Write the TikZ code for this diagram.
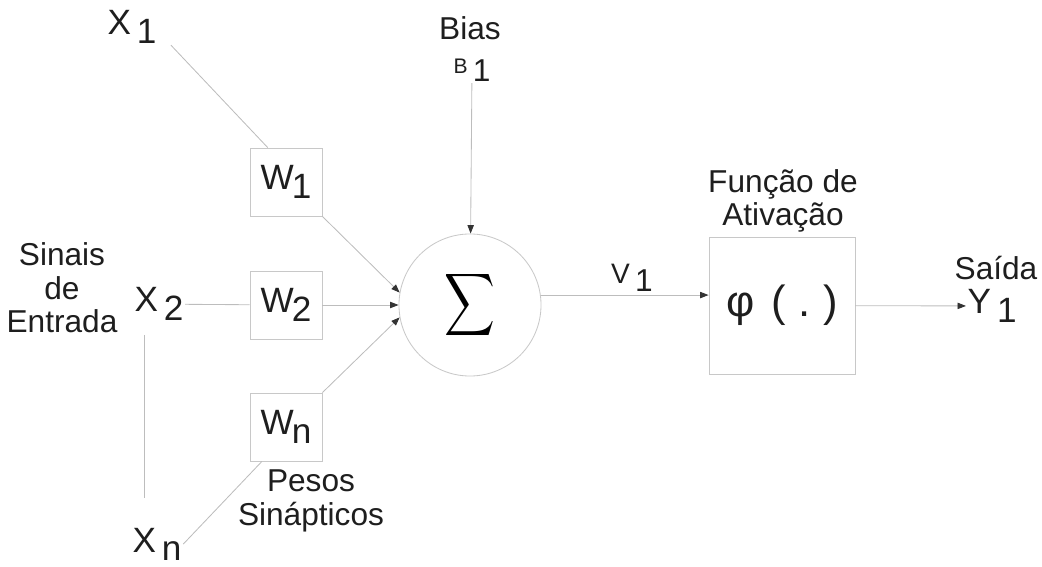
\documentclass[tikz,border=0pt]{standalone}
\usepackage{fontspec}
\setmainfont{Liberation Sans}
\usepackage{graphicx}
\usepackage{tikz}
\usetikzlibrary{arrows.meta,calc,positioning}
\definecolor{nrnline}{HTML}{BDBDBD}
\definecolor{nrnbox}{HTML}{C8C8C8}
\definecolor{nrntext}{HTML}{1E1E1E}
\definecolor{nrnhead}{HTML}{333333}
\newcommand{\mainsz}{\fontsize{22.5}{23.8}\selectfont}
\newcommand{\inpsz}{\fontsize{25}{27}\selectfont}
\newcommand{\lowsub}[1]{\raisebox{-6pt}{#1}}

\begin{document}
\begin{tikzpicture}[x=0.025cm, y=0.025cm,
  lbl/.style={font=\mainsz, text=nrntext, inner sep=1pt},
  inp/.style={font=\inpsz, text=nrntext, inner sep=1pt, anchor=base west},
  wbox/.style={draw=nrnbox, line width=0.6pt, minimum width=1.8cm, minimum height=1.7cm, font=\inpsz, text=nrntext},
  sumnode/.style={circle, draw=nrnbox, line width=0.6pt, minimum size=3.55cm, inner sep=0pt, text=black},
  actbox/.style={draw=nrnbox, line width=0.6pt, minimum width=3.65cm, minimum height=3.425cm, text=nrntext},
  link/.style={draw=nrnline, line width=0.6pt},
  feed/.style={link, -{Triangle[length=6pt, width=4.5pt, color=nrnhead]}}
]
  \useasboundingbox (0,0) rectangle (1042,567);

  % Inputs
  \node[inp] (x1) at (106,532) {X\,\lowsub{1}};
  \node[inp] (x2) at (133,255) {X\,\lowsub{2}};
  \node[inp] (xn) at (131,15) {X\,\lowsub{n}};
  \node[lbl, align=center] (inlbl) at (62,279) {Sinais\\de\\Entrada};
  \coordinate (dtop) at (144,232);
  \coordinate (dbot) at (144,69);

  % Weights
  \node[wbox] (w1) at (286,385) {W\kern-1.5pt\lowsub{1}};
  \node[wbox] (w2) at (286,262) {W\kern-1.5pt\lowsub{2}};
  \node[wbox] (wn) at (286,140) {W\kern-1.5pt\lowsub{n}};
  \node[lbl, align=center] (wlbl) at (311,66) {Pesos\\Sinápticos};

  % Summation and bias
  \node[sumnode] (sum) at (470,262) {\scalebox{2.5}[3.1]{$\displaystyle\sum$}};
  \node[lbl] (biaslbl) at (470,539) {Bias};
  \node[lbl] (b1) at (472,497) {{\fontsize{15}{17}\selectfont B}\,\lowsub{1}};

  % Activation
  \node[actbox] (phi) at (782,261.5) {\fontsize{31}{33}\selectfont φ\hspace{12pt}(\hspace{9pt}.\hspace{9pt})};
  \node[lbl, align=center] (actlbl) at (783,366) {Função de\\Ativação};
  \node[lbl] (v1) at (632,289) {{\fontsize{20}{22}\selectfont V}\,\lowsub{1}};

  % Output
  \node[lbl, anchor=west, font=\inpsz] (y1) at (966,261) {Y\,\lowsub{1}};
  \node[lbl] (outlbl) at (996,299) {Saída};

  % Connectors
  \draw[link] ([xshift=9pt]x1.south east) -- (w1.118);
  \draw[link] (x2) -- (w2);
  \draw[link] (xn.east) -- (wn.235);
  \draw[link] (dtop) -- (dbot);
  \draw[feed] (w1.south east) -- (sum.170);
  \draw[feed] (w2) -- (sum);
  \draw[feed] (wn.north east) -- (sum.190);
  \draw[feed] (b1) -- (sum);
  \draw[feed] (sum.8) -- (sum.8 -| phi.west);
  \draw[feed] (phi) -- (y1);
\end{tikzpicture}
\end{document}
